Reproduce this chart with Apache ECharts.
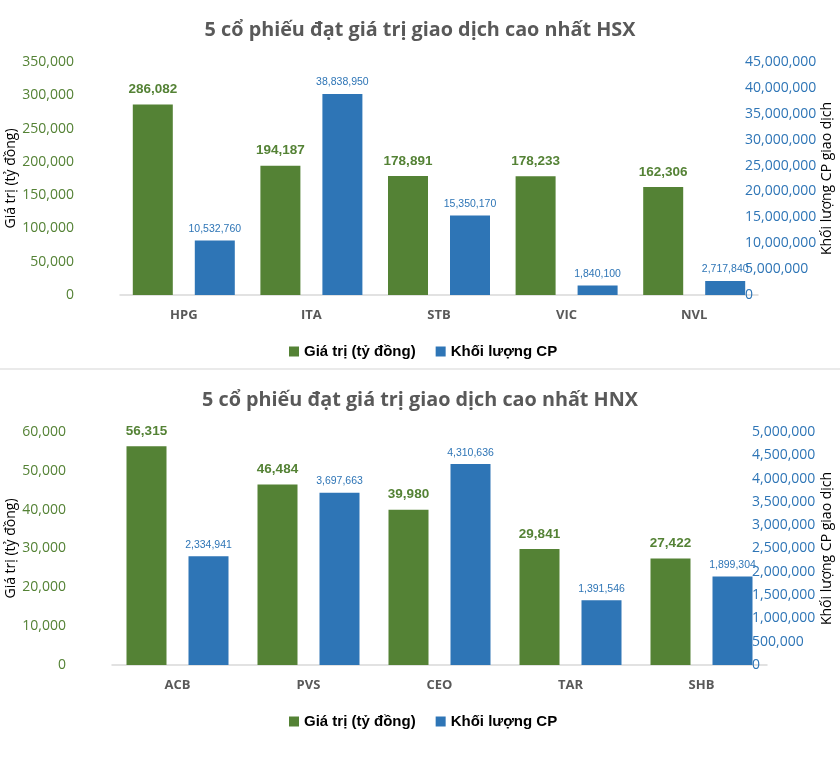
<!DOCTYPE html>
<html>
<head>
<meta charset="utf-8">
<script src="https://cdn.jsdelivr.net/npm/echarts@6/dist/echarts.min.js"></script>
<style>
html,body{margin:0;padding:0;background:#fff;}
#c{width:840px;height:765px;}
</style>
</head>
<body>
<div id="c"></div>
<script>
// ---- data ----
const titleHSX = '5 cổ phiếu đạt giá trị giao dịch cao nhất HSX';
const titleHNX = '5 cổ phiếu đạt giá trị giao dịch cao nhất HNX';
const seriesNames = ['Giá trị (tỷ đồng)', 'Khối lượng CP'];
const leftAxisName = 'Giá trị (tỷ đồng)';
const rightAxisName = 'Khối lượng CP giao dịch';

const categoriesHSX = ['HPG', 'ITA', 'STB', 'VIC', 'NVL'];
const valueHSX = [286082, 194187, 178891, 178233, 162306];
const volumeHSX = [10532760, 38838950, 15350170, 1840100, 2717840];
const leftTicksHSX = [0, 350000, 50000];        // min, max, interval
const rightTicksHSX = [0, 45000000, 5000000];

const categoriesHNX = ['ACB', 'PVS', 'CEO', 'TAR', 'SHB'];
const valueHNX = [56315, 46484, 39980, 29841, 27422];
const volumeHNX = [2334941, 3697663, 4310636, 1391546, 1899304];
const leftTicksHNX = [0, 60000, 10000];
const rightTicksHNX = [0, 5000000, 500000];

// ---- styles ----
const GREEN = '#548235';
const BLUE = '#2e75b6';
const GRAY = '#595959';
const fmt = v => Number(v).toLocaleString('en-US');
const sans = '"Open Sans", sans-serif';
const arial = '"Liberation Sans", Arial, sans-serif';

function leftAxis(grid, t, gap) {
  return {
    type: 'value', gridIndex: grid, position: 'left',
    min: t[0], max: t[1], interval: t[2],
    name: leftAxisName, nameLocation: 'middle', nameGap: gap, nameRotate: 90, nameMoveOverlap: false,
    nameTextStyle: {color: '#000', fontSize: 14, fontFamily: sans},
    axisLine: {show: false}, axisTick: {show: false}, splitLine: {show: false},
    axisLabel: {color: GREEN, fontSize: 14, fontFamily: sans, margin: 46, formatter: fmt}
  };
}
function rightAxis(grid, t, gap, margin) {
  return {
    type: 'value', gridIndex: grid, position: 'right',
    min: t[0], max: t[1], interval: t[2],
    name: rightAxisName, nameLocation: 'middle', nameGap: gap, nameRotate: 90, nameMoveOverlap: false,
    nameTextStyle: {color: '#000', fontSize: 14, fontFamily: sans},
    axisLine: {show: false}, axisTick: {show: false}, splitLine: {show: false},
    axisLabel: {color: BLUE, fontSize: 14, fontFamily: sans, margin: margin, formatter: fmt}
  };
}
function catAxis(grid, cats) {
  return {
    type: 'category', gridIndex: grid, data: cats,
    axisLine: {lineStyle: {color: '#d9d9d9', width: 1.5}},
    axisTick: {show: false},
    axisLabel: {color: GRAY, fontWeight: 'bold', fontSize: 13, fontFamily: sans, margin: 14}
  };
}
function barSeries(name, xi, yi, data, color, labelStyle, dist) {
  return {
    type: 'bar', name: name, xAxisIndex: xi, yAxisIndex: yi, data: data,
    barWidth: 40, barGap: '55%',
    itemStyle: {color: color},
    label: Object.assign({show: true, position: 'top', distance: dist, formatter: p => fmt(p.value)}, labelStyle)
  };
}
const greenLabel = {color: GREEN, fontWeight: 'bold', fontSize: 13.5, fontFamily: arial};
const blueLabel = {color: BLUE, fontSize: 10.5, fontFamily: arial};

function legendAt(top) {
  return {
    top: top, left: 284, itemWidth: 10, itemHeight: 10, itemGap: 20, icon: 'rect',
    data: seriesNames,
    textStyle: {color: '#000', fontWeight: 'bold', fontSize: 15, fontFamily: arial}
  };
}

const chart = echarts.init(document.getElementById('c'), null, {renderer: 'canvas'});
chart.setOption({
  backgroundColor: '#fff',
  animation: false,
  color: [GREEN, BLUE],
  title: [
    {text: titleHSX, left: 'center', top: 15, textStyle: {color: GRAY, fontSize: 19.8, fontWeight: 'bold', fontFamily: sans}},
    {text: titleHNX, left: 'center', top: 385, textStyle: {color: GRAY, fontSize: 19.8, fontWeight: 'bold', fontFamily: sans}}
  ],
  legend: [legendAt(339), legendAt(709)],
  grid: [
    {left: 120, width: 638, top: 62, height: 233, outerBoundsMode: 'none', containLabel: false},
    {left: 112, width: 655, top: 432, height: 233, outerBoundsMode: 'none', containLabel: false}
  ],
  xAxis: [catAxis(0, categoriesHSX), catAxis(1, categoriesHNX)],
  yAxis: [
    leftAxis(0, leftTicksHSX, 102),
    rightAxis(0, rightTicksHSX, 62, -13),
    leftAxis(1, leftTicksHNX, 94),
    rightAxis(1, rightTicksHNX, 53, -15)
  ],
  series: [
    barSeries(seriesNames[0], 0, 0, valueHSX, GREEN, greenLabel, 8),
    barSeries(seriesNames[1], 0, 1, volumeHSX, BLUE, blueLabel, 6),
    barSeries(seriesNames[0], 1, 2, valueHNX, GREEN, greenLabel, 8),
    barSeries(seriesNames[1], 1, 3, volumeHNX, BLUE, blueLabel, 6)
  ],
  graphic: [
    {type: 'line', shape: {x1: 0, y1: 369, x2: 840, y2: 369}, style: {stroke: '#e3e3e3', lineWidth: 1.5}}
  ]
});
</script>
</body>
</html>
